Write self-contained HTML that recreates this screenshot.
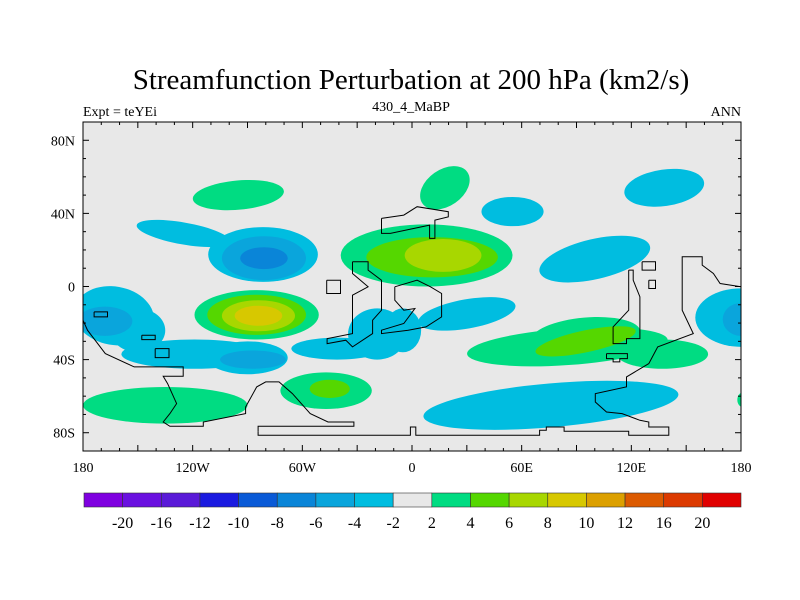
<!DOCTYPE html>
<html><head><meta charset="utf-8"><style>
body{margin:0;background:#fff;}
svg{display:block;font-family:"Liberation Serif",serif;}
</style></head><body>
<svg id="chart" width="800" height="600" viewBox="0 0 800 600">
<text x="411" y="89" text-anchor="middle" font-size="29">Streamfunction Perturbation at 200 hPa (km2/s)</text>
<text x="83" y="116" font-size="14">Expt = teYEi</text>
<text x="411" y="111" text-anchor="middle" font-size="14">430_4_MaBP</text>
<text x="741" y="116" text-anchor="end" font-size="14">ANN</text>
<defs><clipPath id="plotclip"><rect x="83" y="122" width="658" height="329"/></clipPath></defs>
<rect x="83" y="122" width="658" height="329" fill="#e8e8e8"/>
<g id="fills" clip-path="url(#plotclip)"></g>
<g id="coast" clip-path="url(#plotclip)"></g>
<rect x="83" y="122" width="658" height="329" fill="none" stroke="#000" stroke-width="1"/>
<g id="axes"></g>
<g id="cbar"></g>
</svg>
<script>
// contour levels and colors
const levelLabels = ["-20","-16","-12","-10","-8","-6","-4","-2","2","4","6","8","10","12","16","20"];
const levelColors = ["#7f00e0","#6a10e0","#5a1ad8","#1a1ae0","#0a5ad7","#0a85d8","#0aa5dc","#00bde0","#e8e8e8","#00dc82","#55d700","#a8d700","#d7c800","#dca000","#dc5a00","#dc3a00","#e00000"];
// anomaly blobs (lon, lat centers in degrees; radii in degrees; value band index into levelColors)
const blobLon = [-95,18,138,55,-125,-81.5,-81,-81,8,11,17,100,-163,-150,-119,-90,-41,-19,-5,30,180,-168,-87,180,-85,-85,-84,-84,85,95,137,95,-135,-47,-45,76,181];
const blobLat = [50,54,54,41,29,17.5,15.5,15.5,17,16,17,15,-16,-24,-37,-39,-34,-26,-24,-15,-17,-19,-40,-18,-15.5,-15.5,-16,-16,-33,-27,-37,-30,-65,-57,-56,-65,-62];
const blobRx  = [25,15,22,17,26,30,23,13,47,36,21,31,22,15,40,22,25,16,10,27,25,15,18,10,34,27,20,13,55,30,25,28,45,25,11,70,3];
const blobRy  = [8,10,10,8,6,15,12,6,17,11,9,11,16,12,8,9,6,14,12,8,16,8,5,9,13.5,11,8.5,5.5,10,10,8,6,10,10,5,12,4];
const blobRot = [-5,-35,-8,0,10,0,0,0,0,0,0,-13,10,0,0,0,0,0,0,-10,0,0,0,0,0,0,0,0,-4,-5,0,-12,0,0,0,-5,0];
const blobBand= [9,9,7,7,7,7,6,5,9,10,11,7,7,7,7,7,7,7,7,7,7,6,6,6,9,10,11,12,9,9,9,10,9,9,10,7,9];
// axis tick labels
const lonTicks = [-180,-120,-60,0,60,120,180];
const lonTickLabels = ["180","120W","60W","0","60E","120E","180"];
const latTicks = [80,40,0,-40,-80];
const latTickLabels = ["80N","40N","0","40S","80S"];

const NS="http://www.w3.org/2000/svg";
const X = lon => 83 + (lon+180)*658/360;
const Y = lat => 286.5 - lat*329/180;
const SX = 658/360, SY = 329/180;
function mk(tag, attrs, parent){const e=document.createElementNS(NS,tag);for(const k in attrs)e.setAttribute(k,attrs[k]);parent.appendChild(e);return e;}

const fills=document.getElementById('fills');
for(let i=0;i<blobLon.length;i++){
  const cx=X(blobLon[i]), cy=Y(blobLat[i]);
  const e=mk('ellipse',{cx:cx,cy:cy,rx:blobRx[i]*SX,ry:blobRy[i]*SY,fill:levelColors[blobBand[i]],transform:`rotate(${blobRot[i]} ${cx} ${cy})`},fills);
  
  
}

// coastlines in zoom-reference coordinates (decorative), converted to pixels
const coastLines = [
 "443,993 443,1005 785,1005 785,980 797,980 797,1005 1075,1005 1075,990 1090,990 1090,980 1130,980 1130,993 1275,993 1275,1005 1365,1005 1365,980 1320,980 1320,965 1300,960 1260,940 1225,935 1200,905 1200,880 1270,860 1270,830 1320,790 1340,740 1420,700 1395,630 1395,470 1440,470 1440,495 1465,520 1480,550 1527,560",
 "50,660 60,690 100,760 165,800 275,800 275,828 230,828 240,850 260,910 245,940 230,965 245,978 320,978 320,965 415,940 415,920 440,860 460,845 490,845 520,880 560,940 600,965 658,965 658,978 443,978 443,993",
 "655,485 690,485 690,510 720,540 720,630 700,660 700,700 655,740 640,720 598,730 598,715 655,700 655,585 690,560 655,520 655,485",
 "750,560 800,540 830,560 855,580 855,650 820,680 780,690 720,700 720,690 770,670 795,625 770,630 750,600 750,560",
 "720,355 770,345 800,320 870,335 870,350 840,360 840,415 828,415 828,375 740,400 720,400 720,355",
 "1275,510 1275,630 1240,680 1240,730 1270,730 1270,715 1300,715 1300,590 1285,540 1285,510 1275,510",
 "597,540 628,540 628,580 597,580 597,540",
 "75,635 105,635 105,650 75,650 75,635",
 "182,705 212,705 212,718 182,718 182,705",
 "212,745 243,745 243,772 212,772 212,745",
 "1305,485 1335,485 1335,510 1305,510 1305,485",
 "1320,540 1335,540 1335,565 1320,565 1320,540",
 "1225,760 1272,760 1272,775 1255,775 1255,785 1240,785 1240,775 1225,775 1225,760"
];
const coast=document.getElementById('coast');
coastLines.forEach(s=>{
  const pts=s.split(' ').map(p=>{const [zx,zy]=p.split(',').map(Number);return (83+(zx-50)*658/1477).toFixed(1)+','+(140+(zy-120)*293/878).toFixed(1);}).join(' ');
  const pl=mk('polyline',{points:pts,fill:'none',stroke:'#000','stroke-width':1},coast);
  
  
});

// axes
const axes=document.getElementById('axes');
for(let lon=-180;lon<=180;lon+=10){
  const len = lon%30===0?6:3;
  mk('line',{x1:X(lon),x2:X(lon),y1:451,y2:451-len,stroke:'#000'},axes);
  mk('line',{x1:X(lon),x2:X(lon),y1:122,y2:122+len,stroke:'#000'},axes);
}
for(let lat=-90;lat<=90;lat+=10){
  const len = lat%40===0?6:3;
  mk('line',{x1:83,x2:83+len,y1:Y(lat),y2:Y(lat),stroke:'#000'},axes);
  mk('line',{x1:741,x2:741-len,y1:Y(lat),y2:Y(lat),stroke:'#000'},axes);
}
lonTicks.forEach((v,i)=>{
  const t=mk('text',{x:X(v),y:472,'text-anchor':'middle','font-size':14},axes);t.textContent=lonTickLabels[i];
  
  
});
latTicks.forEach((v,i)=>{
  const t=mk('text',{x:75,y:Y(v)+5,'text-anchor':'end','font-size':14},axes);t.textContent=latTickLabels[i];
  
  
});

// colorbar
const cbar=document.getElementById('cbar');
const cbX=84, cbW=657, cbY=493, cbH=14, n=levelColors.length, bw=cbW/n;
levelColors.forEach((c,i)=>{
  const r=mk('rect',{x:cbX+i*bw,y:cbY,width:bw,height:cbH,fill:c,stroke:'#333','stroke-width':0.6},cbar);
  
  
});
levelLabels.forEach((l,i)=>{
  const t=mk('text',{x:cbX+(i+1)*bw,y:528,'text-anchor':'middle','font-size':16},cbar);t.textContent=l;
  
  
});
</script>
</body></html>
